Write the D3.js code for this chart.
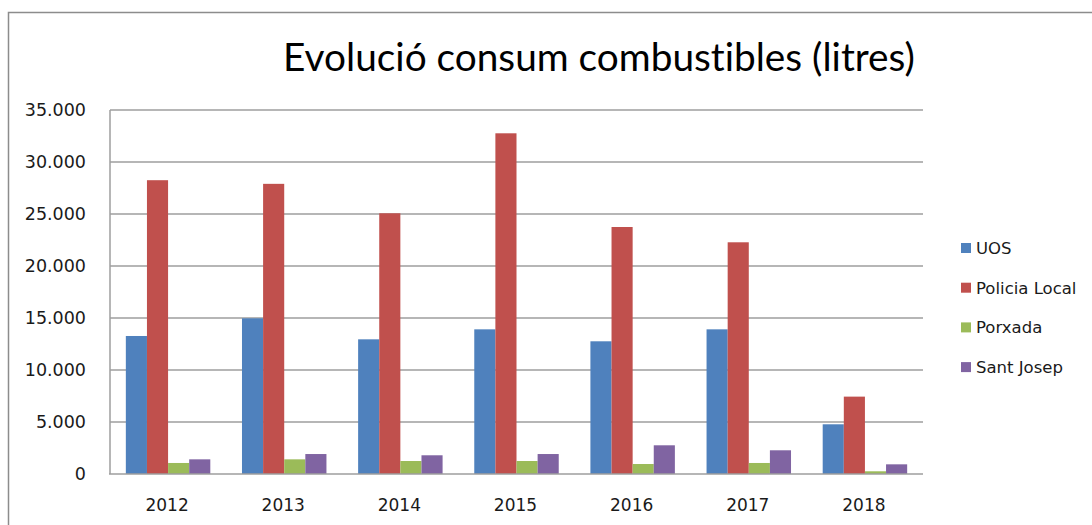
<!DOCTYPE html>
<html>
<head>
<meta charset="utf-8">
<script src="https://cdn.jsdelivr.net/npm/d3@7"></script>
<style>
  html, body { margin: 0; padding: 0; background: #fff; }
  svg { display: block; }
  .title { font-variant-ligatures: none; font-feature-settings: "liga" 0, "clig" 0; }
</style>
</head>
<body>
<div class="chart"></div>
<script>
// data
const years = ['2012', '2013', '2014', '2015', '2016', '2017', '2018'];
const seriesNames = ['UOS', 'Policia Local', 'Porxada', 'Sant Josep'];
const uos = [13270, 14970, 12950, 13910, 12760, 13910, 4780];
const policia = [28250, 27900, 25070, 32760, 23750, 22280, 7440];
const porxada = [1060, 1410, 1250, 1250, 960, 1060, 260];
const santJosep = [1410, 1920, 1800, 1920, 2760, 2280, 930];
const yTicks = [0, 5000, 10000, 15000, 20000, 25000, 30000, 35000];
const colors = ['#4F81BD', '#C0504D', '#9BBB59', '#8064A2'];
const title = 'Evolució consum combustibles (litres)';

const values = [uos, policia, porxada, santJosep];

const width = 1092, height = 525;
const svg = d3.select('.chart').append('svg')
    .attr('width', width).attr('height', height);

// outer chart frame (runs off right / bottom edges)
svg.append('rect')
    .attr('x', 8.5).attr('y', 12.5)
    .attr('width', 1300).attr('height', 800)
    .attr('fill', 'none')
    .attr('stroke', '#8c8c8c')
    .attr('stroke-width', 1.5);

const plot = { left: 110, right: 923, top: 110, bottom: 474 };

const x = d3.scaleBand().domain(years).range([plot.left, plot.right]).padding(0);
const xs = d3.scaleBand().domain(seriesNames).range([0, x.bandwidth()])
    .paddingInner(0).paddingOuter(0.75);
const y = d3.scaleLinear().domain([0, 35000]).range([plot.bottom, plot.top]);

const fmt = v => v === 0 ? '0' : d3.format(',')(v).replace(/,/g, '.');

// gridlines
svg.append('g').selectAll('line')
    .data(yTicks.filter(d => d > 0))
    .enter().append('line')
    .attr('x1', plot.left).attr('x2', plot.right)
    .attr('y1', d => y(d)).attr('y2', d => y(d))
    .attr('stroke', '#9e9e9e')
    .attr('stroke-width', 1.5);

// y labels
svg.append('g').selectAll('text')
    .data(yTicks)
    .enter().append('text')
    .attr('x', 86)
    .attr('y', d => y(d))
    .attr('dy', '0.36em')
    .attr('text-anchor', 'end')
    .attr('font-family', 'DejaVu Sans')
    .attr('font-size', 17.5)
    .attr('fill', '#1a1a1a')
    .text(fmt);

// bars
const groups = svg.append('g').selectAll('g')
    .data(years)
    .enter().append('g')
    .attr('transform', d => 'translate(' + x(d) + ',0)');

groups.selectAll('rect')
    .data((d, i) => seriesNames.map((s, j) => ({ s: s, j: j, v: values[j][i] })))
    .enter().append('rect')
    .attr('x', d => xs(d.s))
    .attr('width', xs.bandwidth())
    .attr('y', d => y(d.v))
    .attr('height', d => plot.bottom - y(d.v))
    .attr('fill', d => colors[d.j]);

// axis lines
svg.append('line')
    .attr('x1', plot.left).attr('x2', plot.left)
    .attr('y1', plot.top).attr('y2', plot.bottom)
    .attr('stroke', '#9e9e9e').attr('stroke-width', 1.5);
svg.append('line')
    .attr('x1', plot.left - 1).attr('x2', plot.right)
    .attr('y1', plot.bottom).attr('y2', plot.bottom)
    .attr('stroke', '#9e9e9e').attr('stroke-width', 1.5);

// x labels
svg.append('g').selectAll('text')
    .data(years)
    .enter().append('text')
    .attr('x', d => x(d) + x.bandwidth() / 2 - 1)
    .attr('y', 511)
    .attr('text-anchor', 'middle')
    .attr('font-family', 'DejaVu Sans')
    .attr('font-size', 17)
    .attr('fill', '#1a1a1a')
    .text(d => d);

// legend
const legend = svg.append('g').selectAll('g')
    .data(seriesNames)
    .enter().append('g')
    .attr('transform', (d, i) => 'translate(961,' + (248 + i * 39.7) + ')');
legend.append('rect')
    .attr('x', 0).attr('y', -5)
    .attr('width', 10).attr('height', 10)
    .attr('fill', (d, i) => colors[i]);
legend.append('text')
    .attr('x', 15).attr('y', 0)
    .attr('dy', '0.36em')
    .attr('font-family', 'DejaVu Sans')
    .attr('font-size', 16.5)
    .attr('fill', '#1a1a1a')
    .text(d => d);

// title, fitted to the width seen in the picture
const t = svg.append('text')
    .attr('class', 'title')
    .attr('x', 599).attr('y', 71)
    .attr('text-anchor', 'middle')
    .attr('font-family', 'Lato, "Open Sans", sans-serif')
    .attr('font-size', 34)
    .attr('fill', '#000')
    .text(title);
const tw = t.node().getComputedTextLength();
t.attr('font-size', 34 * 632 / tw);
</script>
</body>
</html>
